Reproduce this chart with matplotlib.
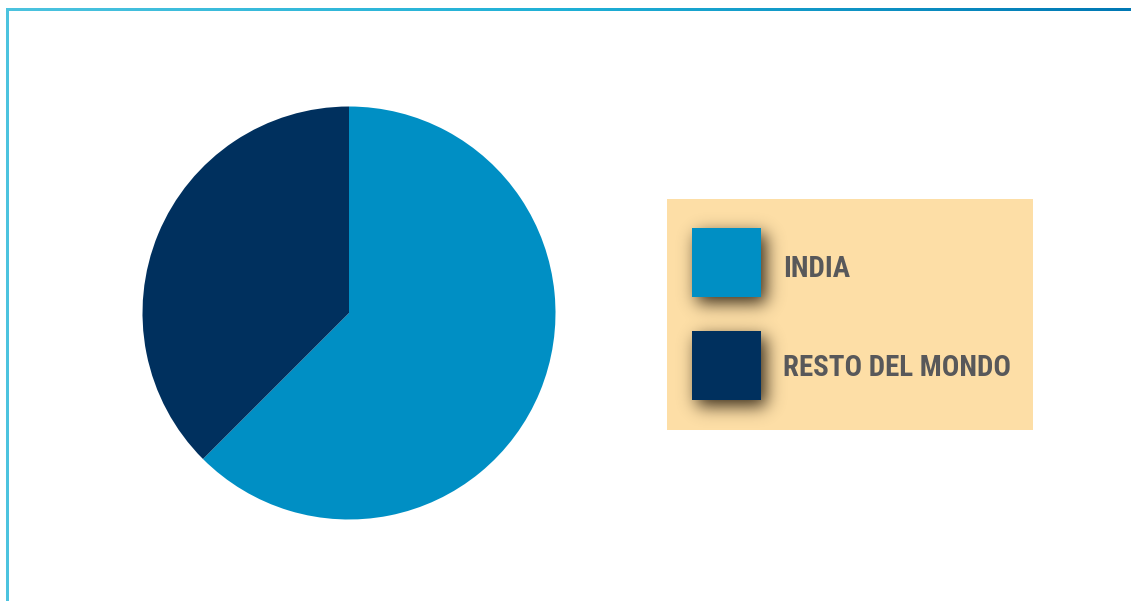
import numpy as np
import matplotlib.pyplot as plt
from matplotlib.patches import Rectangle
from matplotlib.colors import LinearSegmentedColormap
from matplotlib import font_manager

labels = ["INDIA", "RESTO DEL MONDO"]
shares = [62.5, 37.5]
colors = ["#008fc4", "#00305e"]

W, H = 1131, 601
fig = plt.figure(figsize=(W / 100, H / 100), dpi=100)
ax = fig.add_axes([0, 0, 1, 1])

# pie
ax.pie(shares, colors=colors, startangle=90, counterclock=False,
       center=(349, 288), radius=206.5, frame=True,
       wedgeprops=dict(linewidth=0))
ax.set_xlim(0, W)
ax.set_ylim(0, H)
ax.set_aspect("equal")
ax.axis("off")

# legend box
lx0, lx1, ly0, ly1 = 667, 1033, 171, 402
ax.add_patch(Rectangle((lx0, ly0), lx1 - lx0, ly1 - ly0, color="#fddea6", lw=0, zorder=3))

# soft shadows behind swatches
swatches = [(692, 304), (692, 201)]
sw = 69
gx = np.arange(lx0, lx1)
gy = np.arange(ly0, ly1)
mask = np.zeros((len(gy), len(gx)))
for sx, sy in swatches:
    xs, ys = sx + 5, sy - 6
    mask[(gy[:, None] >= ys) & (gy[:, None] < ys + sw) & (gx[None, :] >= xs) & (gx[None, :] < xs + sw)] = 1
k = np.exp(-0.5 * (np.arange(-27, 28) / 8.5) ** 2)
k /= k.sum()
mask = np.apply_along_axis(lambda r: np.convolve(r, k, mode="same"), 1, mask)
mask = np.apply_along_axis(lambda c: np.convolve(c, k, mode="same"), 0, mask)
img = np.zeros((len(gy), len(gx), 4))
img[..., 0:3] = np.array([0.22, 0.17, 0.1])
img[..., 3] = np.clip(mask * 1.0, 0, 1)
ax.imshow(img, extent=(lx0, lx1, ly0, ly1), origin="lower", zorder=4, interpolation="bilinear")
ax.set_xlim(0, W)
ax.set_ylim(0, H)

names = {f.name for f in font_manager.fontManager.ttflist}
fam = "Liberation Sans"
for cand in ["Liberation Sans Narrow", "Roboto Condensed", "DejaVu Sans Condensed"]:
    if cand in names:
        fam = cand
        break

text_y = [332, 233]
texts = []
for (sx, sy), c, lab, ty in zip(swatches, colors, labels, text_y):
    ax.add_patch(Rectangle((sx, sy), sw, sw, color=c, lw=0, zorder=5))
    t = ax.text(783, ty, lab, fontsize=19, fontweight="bold", family=fam,
                color="#58585a", va="center", ha="left", zorder=6)
    texts.append(t)

# fit label width to reference (RESTO DEL MONDO ~228 px wide)
r = fig.canvas.get_renderer()
wpx = texts[1].get_window_extent(r).width
fs = min(22, 19 * 228 / wpx)
for t in texts:
    t.set_fontsize(fs)

# frame lines: gradient top bar and left bar
top = fig.add_axes([6 / W, (H - 11) / H, 1 - 6 / W, 3 / H])
grad = np.linspace(0, 1, 256)[None, :]
cmap = LinearSegmentedColormap.from_list("bar", ["#4cc3df", "#1fb0d6", "#0078b4"])
top.imshow(grad, aspect="auto", cmap=cmap)
top.axis("off")
left = fig.add_axes([6 / W, 0, 2.5 / W, (H - 8) / H])
left.set_facecolor("#4cc3df")
left.set_xticks([])
left.set_yticks([])
for s in left.spines.values():
    s.set_visible(False)

fig.savefig("out.png", dpi=100)
